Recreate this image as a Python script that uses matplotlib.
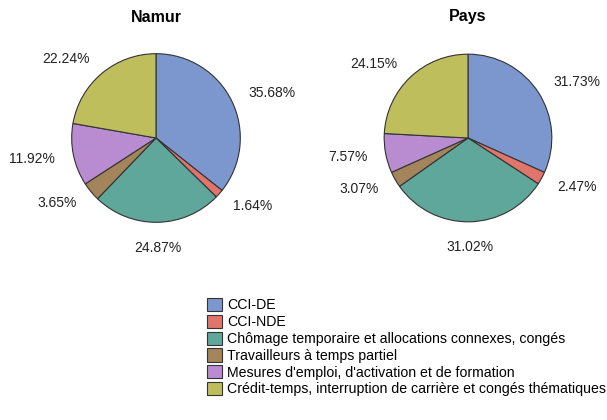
import numpy as np
import matplotlib
matplotlib.use('Agg')
import matplotlib.pyplot as plt

plt.rcParams['font.family'] = ['Liberation Sans', 'DejaVu Sans']

# --- DATA ---
categories = [
    "CCI-DE",
    "CCI-NDE",
    "Chômage temporaire et allocations connexes, congés",
    "Travailleurs à temps partiel",
    "Mesures d'emploi, d'activation et de formation",
    "Crédit-temps, interruption de carrière et congés thématiques",
]
namur_values = [35.68, 1.64, 24.87, 3.65, 11.92, 22.24]
pays_values = [31.73, 2.47, 31.02, 3.07, 7.57, 24.15]
titles = ["Namur", "Pays"]

colors = ['#7B97CE', '#E0766B', '#5FA69B', '#A3845B', '#B98BD0', '#BEBE5D']

W, H = 607, 420
fig = plt.figure(figsize=(W / 100, H / 100), dpi=100)


def draw_pie(cx, cy, r, values, title):
    ax = fig.add_axes([(cx - r) / W, (H - cy - r) / H, 2 * r / W, 2 * r / H])
    wedges, _ = ax.pie(values, colors=colors, startangle=90, counterclock=False,
                       radius=1.0,
                       wedgeprops=dict(edgecolor='#333333', linewidth=0.8))
    ax.set_xlim(-1.02, 1.02)
    ax.set_ylim(-1.02, 1.02)
    ax.set_aspect('equal')
    ax.axis('off')
    # percentage labels outside the slices
    total = sum(values)
    cum = 0
    for v in values:
        mid = 90 - (cum + v / 2) / total * 360
        cum += v
        a = np.deg2rad(mid)
        x, y = np.cos(a), np.sin(a)
        d = 1.22
        if abs(x) < 0.25:
            ha = 'center'
            d = 1.3
        elif x > 0:
            ha = 'left'
        else:
            ha = 'right'
        ax.text(d * x, d * y, f"{v:.2f}%", ha=ha, va='center', fontsize=10,
                color='#222222', clip_on=False)
    fig.text(cx / W, 1 - 17 / H, title, ha='center', va='center',
             fontsize=11.5, fontweight='bold')
    return wedges


wedges = draw_pie(156, 138, 86, namur_values, titles[0])
draw_pie(468, 138, 85.5, pays_values, titles[1])

leg = fig.legend(wedges, categories, loc='upper left',
                 bbox_to_anchor=(207 / W, 1 - 298 / H), frameon=False,
                 fontsize=10.2, handlelength=1.05, handleheight=1.05,
                 handletextpad=0.35, labelspacing=0.17, borderpad=0,
                 borderaxespad=0)
for h in leg.legend_handles:
    h.set_edgecolor('#333333')
    h.set_linewidth(0.8)

plt.savefig('out.png', dpi=100)
